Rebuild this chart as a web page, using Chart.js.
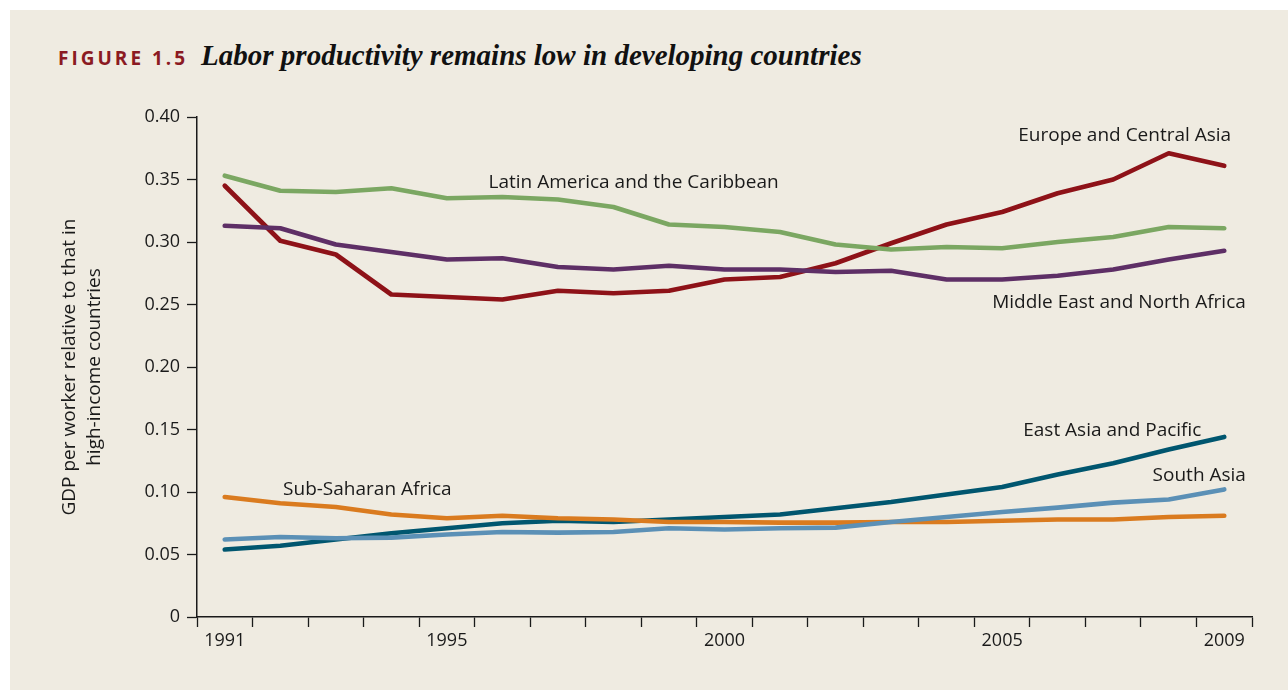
<!DOCTYPE html>
<html>
<head>
<meta charset="utf-8">
<script src="https://cdn.jsdelivr.net/npm/chart.js@4.4.0/dist/chart.umd.min.js"></script>
<style>
  html, body { margin: 0; padding: 0; background: #ffffff; }
  #panel { position: absolute; left: 10px; top: 10px; width: 1278px; height: 680px; background: #efebe1; }
  #wrap { position: absolute; left: 0; top: 0; width: 1288px; height: 690px; }
  #title { position: absolute; left: 58px; top: 38px; white-space: nowrap; line-height: 34px; }
  #fig { font-family: "Open Sans", sans-serif; font-weight: 700; font-size: 19px; letter-spacing: 3px; color: #8b1a22; }
  #head { font-family: "Liberation Serif", serif; font-style: italic; font-weight: 700; font-size: 29px; color: #111; margin-left: 13px; }
</style>
</head>
<body>
<div id="panel"></div>
<div id="title"><span id="fig">FIGURE 1.5</span><span id="head">Labor productivity remains low in developing countries</span></div>
<div id="wrap"><canvas id="chart" width="1288" height="690"></canvas></div>
<script>
// data
const years = ["1991","1992","1993","1994","1995","1996","1997","1998","1999","2000",
  "2001","2002","2003","2004","2005","2006","2007","2008","2009"];
const shownYears = ["1991", "1995", "2000", "2005", "2009"];
const yTicks = [0, 0.05, 0.10, 0.15, 0.20, 0.25, 0.30, 0.35, 0.40];

const latinAmerica = [0.353, 0.341, 0.340, 0.343, 0.335, 0.336, 0.334, 0.328, 0.314, 0.312,
  0.308, 0.298, 0.294, 0.296, 0.295, 0.300, 0.304, 0.312, 0.311];
const europeCentralAsia = [0.345, 0.301, 0.290, 0.258, 0.256, 0.254, 0.261, 0.259, 0.261, 0.270,
  0.272, 0.283, 0.299, 0.314, 0.324, 0.339, 0.350, 0.371, 0.361];
const middleEast = [0.313, 0.311, 0.298, 0.292, 0.286, 0.287, 0.280, 0.278, 0.281, 0.278,
  0.278, 0.276, 0.277, 0.270, 0.270, 0.273, 0.278, 0.286, 0.293];
const subSaharan = [0.096, 0.091, 0.088, 0.082, 0.079, 0.081, 0.079, 0.078, 0.076, 0.076,
  0.0755, 0.0755, 0.076, 0.076, 0.077, 0.078, 0.078, 0.080, 0.081];
const eastAsia = [0.054, 0.057, 0.062, 0.067, 0.071, 0.075, 0.077, 0.076, 0.078, 0.080,
  0.082, 0.087, 0.092, 0.098, 0.104, 0.114, 0.123, 0.134, 0.144];
const southAsia = [0.062, 0.064, 0.063, 0.0635, 0.066, 0.068, 0.0675, 0.068, 0.071, 0.070,
  0.071, 0.0715, 0.076, 0.080, 0.084, 0.0875, 0.0915, 0.094, 0.102];

// label garis: posisi dalam koordinat data (index tahun, nilai)
const lineLabels = [
  { text: "Latin America and the Caribbean", x: 4.75, y: 0.3472 },
  { text: "Europe and Central Asia", x: 14.29, y: 0.3848 },
  { text: "Middle East and North Africa", x: 13.82, y: 0.2512 },
  { text: "East Asia and Pacific", x: 14.38, y: 0.1488 },
  { text: "South Asia", x: 16.71, y: 0.1128 },
  { text: "Sub-Saharan Africa", x: 1.05, y: 0.1016 },
];

const fontFamily = '"Open Sans", sans-serif';

const labelPlugin = {
  id: "lineLabels",
  afterDatasetsDraw(chart) {
    const ctx = chart.ctx;
    const xs = chart.scales.x;
    const ys = chart.scales.y;
    ctx.save();
    ctx.font = "19px " + fontFamily;
    ctx.fillStyle = "#1a1a1a";
    ctx.textAlign = "left";
    ctx.textBaseline = "middle";
    lineLabels.forEach((l) => {
      ctx.fillText(l.text, xs.getPixelForValue(l.x), ys.getPixelForValue(l.y));
    });
    ctx.restore();
  },
};

function series(label, data, color) {
  return {
    label: label,
    data: data,
    borderColor: color,
    backgroundColor: color,
    borderWidth: 4.7,
    pointRadius: 0,
    tension: 0,
    borderCapStyle: "round",
    borderJoinStyle: "round",
  };
}

const ctx = document.getElementById("chart").getContext("2d");
window.prodChart = new Chart(ctx, {
  type: "line",
  data: {
    labels: years,
    datasets: [
      series("Latin America and the Caribbean", latinAmerica, "#7ba762"),
      series("Middle East and North Africa", middleEast, "#5e2f66"),
      series("Europe and Central Asia", europeCentralAsia, "#8e1218"),
      series("South Asia", southAsia, "#5b90b6"),
      series("Sub-Saharan Africa", subSaharan, "#da7b1f"),
      series("East Asia and Pacific", eastAsia, "#00566f"),
    ],
  },
  options: {
    responsive: false,
    animation: false,
    layout: { padding: { left: 57, right: 36, top: 117, bottom: 0 } },
    plugins: {
      legend: { display: false },
      tooltip: { enabled: false },
    },
    scales: {
      x: {
        type: "category",
        offset: true,
        afterFit: (scale) => { scale.height = 73; },
        border: { display: true, color: "#1a1a1a", width: 1.5 },
        grid: {
          display: true,
          offset: true,
          drawOnChartArea: false,
          drawTicks: true,
          tickLength: 10,
          tickColor: "#1a1a1a",
          tickWidth: 1.3,
        },
        ticks: {
          autoSkip: false,
          maxRotation: 0,
          padding: 3,
          color: "#1a1a1a",
          font: { family: fontFamily, size: 18 },
          callback: function (value) {
            const lbl = this.getLabelForValue(value);
            return shownYears.includes(lbl) ? lbl : "";
          },
        },
      },
      y: {
        min: 0,
        max: 0.4,
        afterFit: (scale) => { scale.width = 140; },
        afterBuildTicks: (scale) => { scale.ticks = yTicks.map((v) => ({ value: v })); },
        border: { display: true, color: "#1a1a1a", width: 1.5 },
        grid: {
          display: true,
          drawOnChartArea: false,
          drawTicks: true,
          tickLength: 10,
          tickColor: "#1a1a1a",
          tickWidth: 1.3,
        },
        ticks: {
          padding: 7,
          color: "#1a1a1a",
          font: { family: fontFamily, size: 18 },
          callback: (v) => (v === 0 ? "0" : v.toFixed(2)),
        },
        title: {
          display: true,
          text: ["GDP per worker relative to that in", "high-income countries"],
          color: "#1a1a1a",
          font: { family: fontFamily, size: 19, lineHeight: 1.32 },
          padding: { top: 0, bottom: 0 },
        },
      },
    },
  },
  plugins: [labelPlugin],
});
</script>
</body>
</html>
